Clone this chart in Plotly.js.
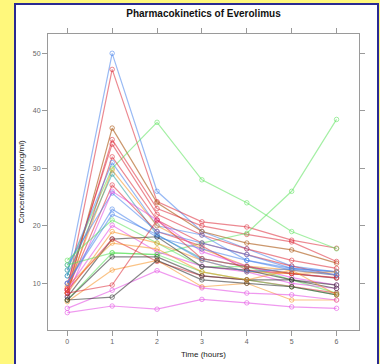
<!DOCTYPE html>
<html><head><meta charset="utf-8">
<script src="https://cdn.plot.ly/plotly-3.0.1.min.js"></script>
<style>
html,body{margin:0;padding:0;background:#fff87c;width:380px;height:364px;overflow:hidden;}
#frame{position:absolute;left:14px;top:3px;width:361px;height:380px;background:#fff;border:2px solid #2a2a92;}
#chart{position:absolute;left:0;top:0;width:380px;height:364px;}
</style></head>
<body><div id="frame"></div><div id="chart"></div>
<script>
const times = [0, 1, 2, 3, 4, 5, 6];
const subjects = ["S1","S2","S3","S4","S5","S6","S7","S8","S9","S10","S11","S12","S13","S14","S15","S16","S17","S18","S19","S20","S21","S22","S23","S24","S25","S26","S27","S28","S29"];
const conc = [
  [11.3, 50.0, 26.0, 19.0, 16.0, 13.0, 12.0],
  [8.8, 47.2, 24.2, 20.7, 19.8, 17.5, 16.1],
  [8.3, 37.0, 24.0, 19.0, 17.0, 15.8, 13.5],
  [9.1, 35.0, 23.0, 20.0, 18.5, 17.2, 13.8],
  [12.3, 30.0, 38.0, 28.0, 24.0, 19.0, 16.0],
  [7.1, 15.3, 15.0, 17.0, 18.7, 26.0, 38.5],
  [10.0, 34.2, 22.0, 18.4, 16.0, 14.0, 12.6],
  [8.3, 32.0, 21.0, 17.0, 15.0, 13.0, 11.4],
  [12.3, 31.0, 20.0, 18.4, 14.0, 12.6, 12.0],
  [9.1, 29.7, 20.0, 16.0, 13.0, 12.3, 11.4],
  [11.3, 29.0, 18.4, 14.3, 12.9, 11.7, 10.9],
  [8.8, 27.1, 19.0, 16.5, 12.3, 11.7, 10.9],
  [13.2, 25.7, 19.0, 17.0, 15.0, 12.6, 12.0],
  [7.8, 26.0, 21.0, 15.5, 13.0, 11.0, 9.7],
  [10.0, 22.9, 18.0, 16.0, 14.0, 12.3, 11.4],
  [14.0, 21.0, 17.0, 12.9, 12.9, 10.6, 8.3],
  [9.0, 20.1, 15.5, 13.0, 12.0, 10.0, 9.1],
  [8.3, 19.0, 17.0, 14.0, 12.0, 11.7, 12.0],
  [7.6, 17.7, 18.1, 12.9, 12.3, 10.6, 9.7],
  [8.8, 17.7, 13.8, 11.3, 10.6, 9.4, 8.3],
  [13.2, 15.3, 15.0, 12.0, 10.6, 9.4, 8.0],
  [7.1, 14.6, 14.6, 11.3, 10.6, 10.6, 9.1],
  [6.8, 12.3, 14.0, 9.4, 10.0, 7.1, 7.1],
  [8.3, 9.7, 21.0, 14.3, 12.9, 11.7, 11.0],
  [5.65, 8.8, 12.2, 9.2, 8.3, 8.0, 7.1],
  [7.1, 7.6, 14.0, 10.6, 10.0, 9.4, 8.0],
  [4.9, 6.05, 5.5, 7.2, 6.6, 5.9, 5.65],
  [9.5, 17.0, 16.0, 12.0, 10.6, 12.3, 8.0],
  [10.0, 22.0, 18.5, 14.0, 12.0, 12.5, 11.5]
];
const palette = {
  blue:"rgba(70,130,235,0.55)", red:"rgba(220,40,55,0.55)", green:"rgba(90,225,90,0.55)",
  orange:"rgba(245,145,35,0.55)", magenta:"rgba(225,70,225,0.55)", gray:"rgba(55,55,55,0.6)",
  brown:"rgba(175,95,30,0.65)", teal:"rgba(40,160,160,0.55)"
};
const colorNames = ["blue","red","brown","red","green","green","red","red","blue","orange","teal","red","blue","magenta","blue","green","magenta","orange","gray","red","green","gray","orange","red","magenta","gray","magenta","orange","blue"];

const traces = subjects.map((s, i) => ({
  type: "scatter", mode: "lines+markers", name: s, x: times, y: conc[i],
  line: {color: palette[colorNames[i]], width: 1.2},
  marker: {symbol: "circle-open", size: 4.5, color: palette[colorNames[i]], line: {width: 1}},
  showlegend: false, hoverinfo: "skip"
}));

const axisCommon = {
  showline: true, linecolor: "#9a9a9a", linewidth: 1, mirror: "allticks",
  ticks: "outside", ticklen: 5, tickcolor: "#9a9a9a", tickwidth: 1,
  showgrid: false, zeroline: false,
  tickfont: {family: "Liberation Sans, Arial, sans-serif", size: 7, color: "#666"}
};

const layout = {
  width: 380, height: 364,
  margin: {l: 48, r: 21, t: 34, b: 34},
  paper_bgcolor: "rgba(0,0,0,0)", plot_bgcolor: "rgba(0,0,0,0)",
  title: {text: "<b>Pharmacokinetics of Everolimus</b>", x: 0.5, xref: "paper", y: 0.962, yref: "container", yanchor: "middle",
    font: {family: "Liberation Sans, Arial, sans-serif", size: 10, color: "#111"}},
  xaxis: Object.assign({}, axisCommon, {
    range: [-0.43, 6.5], tickvals: times, ticktext: times.map(String),
    title: {text: "Time (hours)", standoff: 6, font: {family: "Liberation Sans, Arial, sans-serif", size: 8, color: "#222"}}
  }),
  yaxis: Object.assign({}, axisCommon, {
    range: [1.88, 53.36], tickvals: [10, 20, 30, 40, 50],
    title: {text: "Concentration (mcg/ml)", standoff: 7, font: {family: "Liberation Sans, Arial, sans-serif", size: 8, color: "#222"}}
  })
};

Plotly.newPlot("chart", traces, layout, {staticPlot: true, displayModeBar: false});
</script></body></html>
